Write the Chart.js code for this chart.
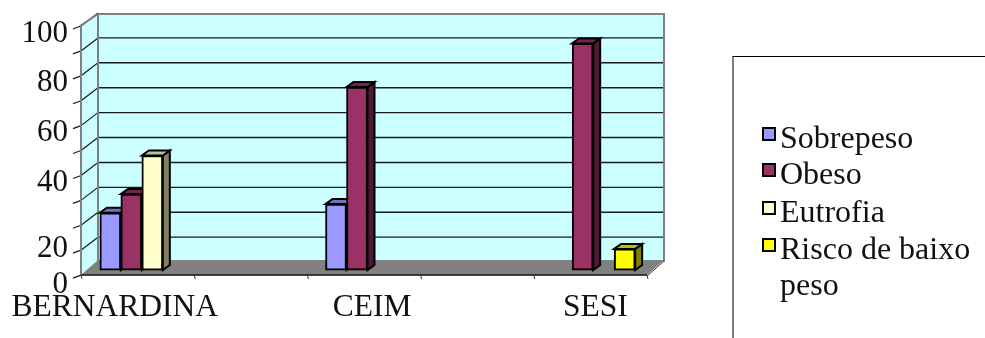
<!DOCTYPE html>
<html>
<head>
<meta charset="utf-8">
<title>Sobrepeso, Obeso, Eutrofia, Risco de baixo peso</title>
<script src="https://cdn.jsdelivr.net/npm/chart.js@4"></script>
<style>
  html, body { margin: 0; padding: 0; background: #fff; }
  #wrap { position: relative; width: 985px; height: 338px; overflow: hidden; }
  #chart { position: absolute; left: 0; top: 0; }
  #legend-box {
    position: absolute; left: 732px; top: 56px; width: 253px; height: 282px;
    box-sizing: border-box; border-top: 1px solid #000; border-left: 2px solid #808080;
  }
  .legend-row {
    position: absolute; left: 28px; width: 216px; padding-left: 18px; box-sizing: border-box;
    font: 32px/36px "Liberation Serif", serif; color: #111;
  }
  .legend-swatch {
    position: absolute; left: 0; top: 8px; width: 14px; height: 14px;
    box-sizing: border-box; border: 2px solid #000;
  }
</style>
</head>
<body>
<div id="wrap">
  <canvas id="chart" width="985" height="338"></canvas>
  <div id="legend-box"></div>
</div>
<script>
// Values per series, one per category; null leaves the slot in the group empty
const categories = ['BERNARDINA', 'CEIM', 'SESI'];
const seriesNames = ['Sobrepeso', 'Obeso', 'Eutrofia', 'Risco de baixo peso'];
const sobrepeso = [23, 26.5, null];
const obeso = [30.5, 73.5, 91];
const eutrofia = [46, null, null];
const riscoBaixoPeso = [null, null, 8.5];
const yTickLabels = ['0', '20', '40', '60', '80', '100'];
const gridValues = [0, 10, 20, 30, 40, 50, 60, 70, 80, 90, 100];

const frontColors = ['#9999ff', '#993366', '#ffffcc', '#ffff00'];
const sideColors = ['#5c5c99', '#4d1a33', '#808066', '#808000'];
const topColors = ['#7373bf', '#73264d', '#bfbf99', '#bfbf00'];

// Where the axis text sits relative to its tick
const yLabelAt = [-6, 8.5, 35, 55, 75, 95];
const xLabelNudge = [-0.12, 0.02, 0.01];

// 3D box layout in px
const FRONT_LEFT = 81, FRONT_RIGHT = 647, BACK_DX = 17;
const FRONT_DY = 5, BACK_DY = -8;
const BAR_DX = 7, BAR_DY = -5;
const FLOOR_TICKS = 6;

function poly(ctx, pts, fill, stroke, lw) {
  ctx.beginPath();
  pts.forEach((p, i) => i ? ctx.lineTo(p[0], p[1]) : ctx.moveTo(p[0], p[1]));
  ctx.closePath();
  if (fill) { ctx.fillStyle = fill; ctx.fill(); }
  if (stroke) { ctx.strokeStyle = stroke; ctx.lineWidth = lw; ctx.stroke(); }
}

function line(ctx, x1, y1, x2, y2, color, lw) {
  ctx.beginPath();
  ctx.moveTo(x1, y1);
  ctx.lineTo(x2, y2);
  ctx.strokeStyle = color;
  ctx.lineWidth = lw;
  ctx.stroke();
}

// Walls, floor and grid behind the bars
const box3d = {
  id: 'box3d',
  afterLayout(chart) {
    // the value axis has no width of its own, its text stays left of the wall
    const y = chart.scales.y;
    y.left = 0;
    y.right = 68;
  },
  beforeDatasetsDraw(chart) {
    const { ctx } = chart;
    const y = chart.scales.y;
    const backLeft = FRONT_LEFT + BACK_DX, backRight = FRONT_RIGHT + BACK_DX;
    const front = v => y.getPixelForValue(v) + FRONT_DY;
    const back = v => y.getPixelForValue(v) + BACK_DY;
    const wallTop = back(100) + 1;
    ctx.save();
    ctx.lineJoin = 'miter';

    poly(ctx, [[backLeft, wallTop], [backRight, wallTop], [backRight, back(0)], [backLeft, back(0)]], '#ccffff');
    poly(ctx, [[FRONT_LEFT, front(100)], [backLeft, wallTop], [backLeft, back(0)], [FRONT_LEFT, front(0)]], '#ccffff');

    gridValues.forEach(v => {
      if (v === 0) return;
      if (v < 100) line(ctx, backLeft, back(v), backRight, back(v), '#1a1a1a', 1.4);
    });
    gridValues.forEach(v => {
      line(ctx, FRONT_LEFT - 8, front(v) + 3, FRONT_LEFT, front(v), '#1a1a1a', 1.2);
      if (v > 0) line(ctx, FRONT_LEFT, front(v), backLeft, back(v), '#1a1a1a', 1.2);
    });

    // outline of the walls
    line(ctx, FRONT_LEFT, front(100), FRONT_LEFT, front(0), '#808080', 2);
    line(ctx, FRONT_LEFT - 1, front(100), backLeft, wallTop, '#808080', 2);
    line(ctx, backLeft, wallTop, backRight + 1, wallTop, '#808080', 2);
    line(ctx, backLeft, wallTop, backLeft, back(0), '#808080', 2);
    line(ctx, backRight, wallTop, backRight, back(0), '#808080', 2);

    poly(ctx, [[FRONT_LEFT, front(0)], [backLeft, back(0) - 2], [backRight, back(0) - 2], [FRONT_RIGHT, front(0)]], '#808080');
    line(ctx, FRONT_LEFT, front(0), FRONT_RIGHT, front(0), '#111', 1.6);
    line(ctx, FRONT_RIGHT, front(0) + 1, backRight, back(0) - 1, '#333', 1);
    for (let i = 0; i < FLOOR_TICKS; i++) {
      const tx = FRONT_LEFT + (FRONT_RIGHT - FRONT_LEFT) * i / (FLOOR_TICKS - 1);
      line(ctx, tx, front(0), tx + 1, front(0) + 4, '#333', 1);
    }

    // side and top of each bar, the library paints the front faces over them
    chart.data.datasets.forEach((ds, i) => {
      chart.getDatasetMeta(i).data.forEach((bar, j) => {
        if (ds.data[j] == null) return;
        const l = bar.x - bar.width / 2, r = bar.x + bar.width / 2;
        poly(ctx, [[r, bar.y], [r + BAR_DX, bar.y + BAR_DY], [r + BAR_DX, bar.base + BAR_DY], [r, bar.base]], sideColors[i], '#000', 2);
        poly(ctx, [[l, bar.y], [l + BAR_DX, bar.y + BAR_DY], [r + BAR_DX, bar.y + BAR_DY], [r, bar.y]], topColors[i], '#000', 2);
      });
    });
    ctx.restore();
  }
};

const seriesValues = [sobrepeso, obeso, eutrofia, riscoBaixoPeso];

new Chart(document.getElementById('chart'), {
  type: 'bar',
  data: {
    labels: categories,
    datasets: seriesNames.map((name, i) => ({
      label: name,
      data: seriesValues[i],
      backgroundColor: frontColors[i],
      borderColor: '#000',
      borderWidth: 2,
      borderSkipped: false,
      barThickness: 21
    }))
  },
  options: {
    responsive: false,
    animation: false,
    layout: { padding: { left: 29, right: 279, top: 21, bottom: 0 } },
    plugins: { legend: { display: false }, tooltip: { enabled: false } },
    scales: {
      x: {
        grid: { display: false },
        border: { display: false },
        afterFit: s => { s.height = 48; },
        afterBuildTicks: s => { s.ticks.forEach((t, i) => { t.value = i + xLabelNudge[i]; }); },
        ticks: {
          autoSkip: false,
          maxRotation: 0,
          padding: -9,
          color: '#111',
          font: { family: '"Liberation Serif", serif', size: 31.5 },
          callback: (v, i) => categories[i]
        }
      },
      y: {
        min: -8,
        max: 100,
        grid: { display: false, drawTicks: false },
        border: { display: false },
        afterFit: s => { s.width = 0; },
        afterBuildTicks: s => { s.ticks = yLabelAt.map(value => ({ value })); },
        ticks: {
          padding: 0,
          color: '#111',
          font: { family: '"Liberation Serif", serif', size: 31 },
          callback: (v, i) => yTickLabels[i]
        }
      }
    }
  },
  plugins: [box3d]
});

// Legend rows beside the plot
const legendBox = document.getElementById('legend-box');
const legendTops = [62, 98, 136, 173];
seriesNames.forEach((name, i) => {
  const row = document.createElement('div');
  row.className = 'legend-row';
  row.style.top = legendTops[i] + 'px';
  row.textContent = name;
  const swatch = document.createElement('span');
  swatch.className = 'legend-swatch';
  swatch.style.background = frontColors[i];
  row.prepend(swatch);
  legendBox.appendChild(row);
});
</script>
</body>
</html>
